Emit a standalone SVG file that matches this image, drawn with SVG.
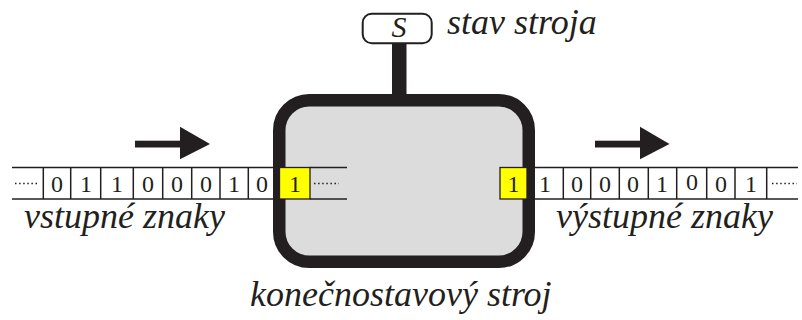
<svg xmlns="http://www.w3.org/2000/svg" width="802" height="320" viewBox="0 0 802 320">
<style>
.tape{stroke:#231f20;stroke-width:1.3;fill:none}
.cell{stroke:#231f20;stroke-width:1.5}
.dots{stroke:#231f20;stroke-width:1.5;stroke-dasharray:1.5 2.6;fill:none}
.yel{fill:#ffff00;stroke:#231f20;stroke-width:1.3}
.arrow{fill:#231f20}
</style>
<rect width="802" height="320" fill="#ffffff"/>
<g id="input-tape">
<line class="tape" x1="12" y1="167.5" x2="276" y2="167.5"/>
<line class="tape" x1="12" y1="199" x2="276" y2="199"/>
<line class="dots" x1="15" y1="183.5" x2="38" y2="183.5"/>
<g class="cell">
<line x1="43.3" y1="167.5" x2="43.3" y2="199"/>
<line x1="70.7" y1="167.5" x2="70.7" y2="199"/>
<line x1="100.7" y1="167.5" x2="100.7" y2="199"/>
<line x1="133.3" y1="167.5" x2="133.3" y2="199"/>
<line x1="162.7" y1="167.5" x2="162.7" y2="199"/>
<line x1="191.7" y1="167.5" x2="191.7" y2="199"/>
<line x1="220" y1="167.5" x2="220" y2="199"/>
<line x1="248.3" y1="167.5" x2="248.3" y2="199"/>
</g>
<g font-family="Liberation Serif, Times New Roman, serif" font-size="24" fill="#231f20" text-anchor="middle">
<text x="57" y="192">0</text>
<text x="86" y="192">1</text>
<text x="117" y="192">1</text>
<text x="148" y="192">0</text>
<text x="177" y="192">0</text>
<text x="206" y="192">0</text>
<text x="234" y="192">1</text>
<text x="262" y="192">0</text>
</g>
</g>
<g id="output-tape">
<line class="tape" x1="532" y1="167.5" x2="798" y2="167.5"/>
<line class="tape" x1="532" y1="199" x2="798" y2="199"/>
<g class="cell">
<line x1="563.3" y1="167.5" x2="563.3" y2="199"/>
<line x1="590.7" y1="167.5" x2="590.7" y2="199"/>
<line x1="619.3" y1="167.5" x2="619.3" y2="199"/>
<line x1="648.3" y1="167.5" x2="648.3" y2="199"/>
<line x1="676.7" y1="167.5" x2="676.7" y2="199"/>
<line x1="706.7" y1="167.5" x2="706.7" y2="199"/>
<line x1="735" y1="167.5" x2="735" y2="199"/>
<line x1="766.7" y1="167.5" x2="766.7" y2="199"/>
</g>
<line class="dots" x1="772" y1="183.5" x2="797" y2="183.5"/>
<g font-family="Liberation Serif, Times New Roman, serif" font-size="24" fill="#231f20" text-anchor="middle">
<text x="545" y="192">1</text>
<text x="577" y="192">0</text>
<text x="605" y="192">0</text>
<text x="633" y="192">0</text>
<text x="662" y="192">1</text>
<text x="692" y="190">0</text>
<text x="721" y="192">0</text>
<text x="751" y="192">1</text>
</g>
</g>
<g id="state">
<rect x="392" y="40" width="14.5" height="62" fill="#231f20"/>
<rect x="362.7" y="13.7" width="69" height="29.6" rx="9" fill="#ffffff" stroke="#231f20" stroke-width="2"/>
<text x="399" y="37" text-anchor="middle" font-family="Liberation Serif, Times New Roman, serif" font-style="italic" font-size="30" fill="#231f20">S</text>
<text x="447" y="34" font-family="Liberation Serif, Times New Roman, serif" font-style="italic" font-size="36" fill="#231f20">stav stroja</text>
</g>
<g id="machine">
<rect x="279.25" y="100.25" width="249.5" height="161.5" rx="30" fill="#dcdcdc" stroke="#231f20" stroke-width="12.5"/>
<line class="tape" x1="310" y1="167.5" x2="347" y2="167.5"/>
<line class="tape" x1="310" y1="199" x2="347" y2="199"/>
<line class="dots" x1="314" y1="183.5" x2="339" y2="183.5"/>
<rect class="yel" x="279.5" y="167.5" width="30.5" height="31.5"/>
<text x="295" y="192" text-anchor="middle" font-family="Liberation Serif, Times New Roman, serif" font-size="24" fill="#231f20">1</text>
<rect class="yel" x="500" y="167.5" width="27" height="31.5"/>
<text x="513.5" y="192" text-anchor="middle" font-family="Liberation Serif, Times New Roman, serif" font-size="24" fill="#231f20">1</text>
<text x="250" y="306" font-family="Liberation Serif, Times New Roman, serif" font-style="italic" font-size="36" fill="#231f20">konečnostavový stroj</text>
</g>
<g id="connectors">
<rect class="arrow" x="135" y="140.7" width="46" height="6.8"/>
<polygon class="arrow" points="180,126.7 210,144 180,159.3"/>
<rect class="arrow" x="595" y="140.7" width="46" height="6.8"/>
<polygon class="arrow" points="640,126.7 669.5,144 640,159.3"/>
</g>
<g id="labels" font-family="Liberation Serif, Times New Roman, serif" font-style="italic" font-size="36" fill="#231f20">
<text x="24" y="228">vstupné znaky</text>
<text x="556" y="228">výstupné znaky</text>
</g>
</svg>
